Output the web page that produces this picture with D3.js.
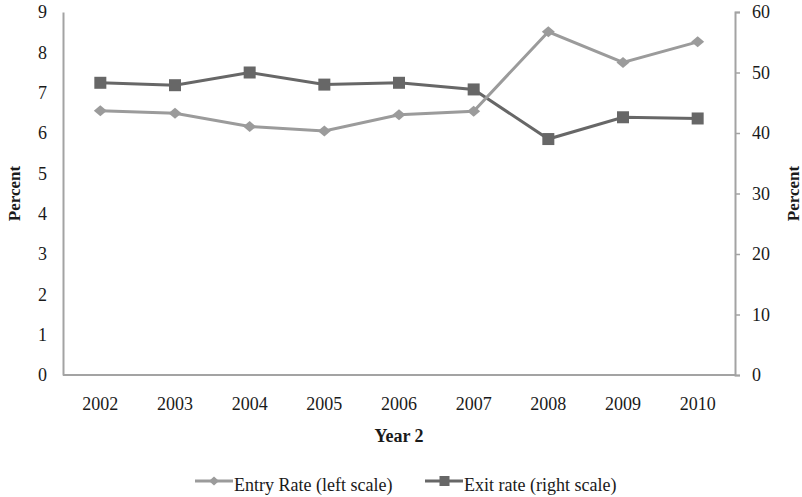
<!DOCTYPE html>
<html><head><meta charset="utf-8">
<script src="https://cdn.jsdelivr.net/npm/d3@7"></script>
<style>body{margin:0;background:#fff}svg{display:block}text{font-family:"Liberation Serif","Times New Roman",serif;fill:#1a1a1a}</style>
</head><body><svg id="c" width="802" height="497"></svg>
<script>
const years = ["2002","2003","2004","2005","2006","2007","2008","2009","2010"];
const entryRate = [6.55, 6.49, 6.16, 6.05, 6.45, 6.54, 8.51, 7.75, 8.26];
const exitRate = [48.3, 47.9, 50.0, 48.0, 48.3, 47.2, 39.0, 42.6, 42.4];
const leftTicks = [0,1,2,3,4,5,6,7,8,9];
const rightTicks = [0,10,20,30,40,50,60];
const seriesNames = ["Entry Rate (left scale)", "Exit rate (right scale)"];

const svg = d3.select("#c");
const L = 63, R = 735, T = 12, B = 375;
const axisCol = "#a3a3a3", entryCol = "#9b9b9b", exitCol = "#676767";

const x = d3.scaleBand().domain(years).range([L, R]);
const yL = d3.scaleLinear().domain([0, 9]).range([B, T]);
const yR = d3.scaleLinear().domain([0, 60]).range([B, T]);

// left axis
const gl = svg.append("g").attr("transform", `translate(${L},0)`)
  .call(d3.axisLeft(yL).tickValues(leftTicks).tickSize(0).tickPadding(16).tickFormat(d3.format("d")));
gl.select(".domain").attr("stroke", axisCol).attr("stroke-width", 2);
gl.selectAll("text").attr("font-size", 18).attr("font-family", "Liberation Serif").attr("fill", "#1a1a1a");

// right axis
const gr = svg.append("g").attr("transform", `translate(${R},0)`)
  .call(d3.axisRight(yR).tickValues(rightTicks).tickSize(5).tickSizeOuter(5).tickPadding(12).tickFormat(d3.format("d")));
gr.select(".domain").attr("stroke", axisCol).attr("stroke-width", 2);
gr.selectAll(".tick line").attr("stroke", axisCol).attr("stroke-width", 1.5);
gr.selectAll("text").attr("font-size", 18).attr("font-family", "Liberation Serif").attr("fill", "#1a1a1a");

// bottom axis
const gb = svg.append("g").attr("transform", `translate(0,${B})`)
  .call(d3.axisBottom(x).tickSize(0).tickPadding(22));
gb.select(".domain").attr("stroke", axisCol).attr("stroke-width", 2).attr("d", `M${L},0H${R}`);
gb.selectAll("text").attr("font-size", 18).attr("font-family", "Liberation Serif").attr("fill", "#1a1a1a");

// axis titles
svg.append("text").attr("transform", `translate(20,${(T+B)/2}) rotate(-90)`)
  .attr("text-anchor", "middle").attr("font-size", 17).attr("font-weight", "bold").text("Percent");
svg.append("text").attr("transform", `translate(799,${(T+B)/2}) rotate(-90)`)
  .attr("text-anchor", "middle").attr("font-size", 17).attr("font-weight", "bold").text("Percent");
svg.append("text").attr("x", (L+R)/2).attr("y", 442)
  .attr("text-anchor", "middle").attr("font-size", 18).attr("font-weight", "bold").text("Year 2");

const cx = d => x(d) + x.bandwidth()/2;
const diamond = "M0,-5.5L6.5,0L0,5.5L-6.5,0Z";
const smallDiamond = "M0,-4.5L5,0L0,4.5L-5,0Z";

// exit line (right scale)
svg.append("path").datum(years.map((y,i)=>[cx(y), yR(exitRate[i])]))
  .attr("d", d3.line()).attr("fill","none").attr("stroke", exitCol).attr("stroke-width", 3);
svg.selectAll(".sq").data(years).join("rect")
  .attr("x", (d,i)=>cx(d)-6).attr("y",(d,i)=>yR(exitRate[i])-6).attr("width",12).attr("height",12).attr("fill", exitCol);

// entry line (left scale)
svg.append("path").datum(years.map((y,i)=>[cx(y), yL(entryRate[i])]))
  .attr("d", d3.line()).attr("fill","none").attr("stroke", entryCol).attr("stroke-width", 3);
svg.selectAll(".dm").data(years).join("path")
  .attr("transform",(d,i)=>`translate(${cx(d)},${yL(entryRate[i])})`).attr("d", diamond).attr("fill", entryCol);

// legend
const ly = 481;
const leg = [
  {name: seriesNames[0], col: entryCol, x0: 195, shape: "d"},
  {name: seriesNames[1], col: exitCol, x0: 425, shape: "s"}
];
leg.forEach(l => {
  svg.append("line").attr("x1", l.x0).attr("x2", l.x0+38).attr("y1", ly).attr("y2", ly)
    .attr("stroke", l.col).attr("stroke-width", 3);
  if (l.shape === "d") svg.append("path").attr("transform", `translate(${l.x0+19},${ly})`).attr("d", smallDiamond).attr("fill", l.col);
  else svg.append("rect").attr("x", l.x0+14.5).attr("y", ly-5).attr("width", 10).attr("height", 10).attr("fill", l.col);
  svg.append("text").attr("x", l.x0+39).attr("y", ly+10).attr("font-size", 18).text(l.name);
});
</script></body></html>
